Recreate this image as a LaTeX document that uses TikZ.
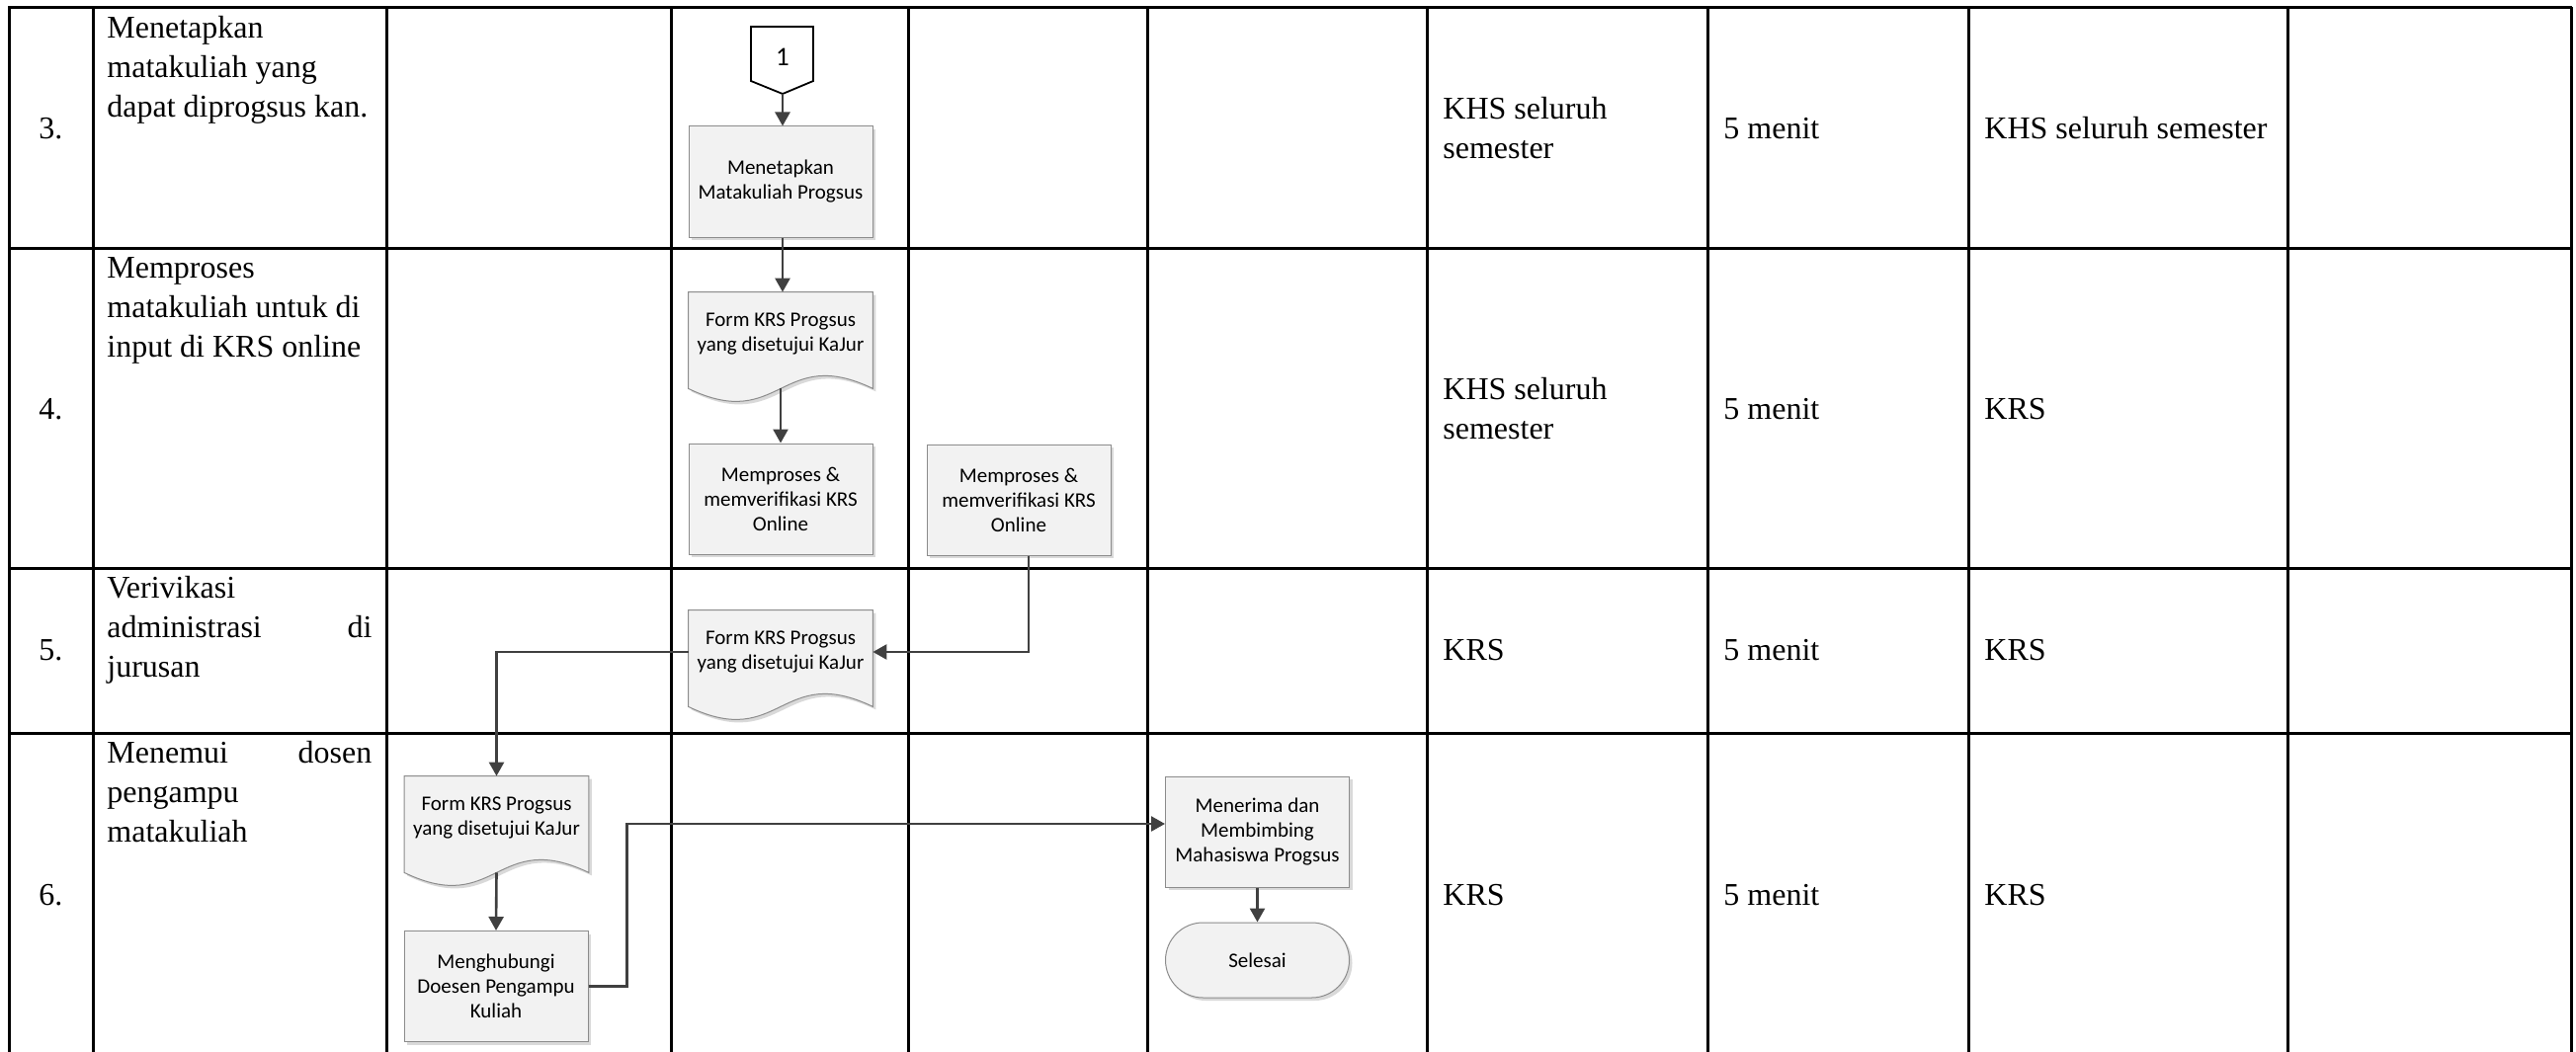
\documentclass[tikz,border=0pt]{standalone}
\usepackage{fontspec}
\setmainfont{Liberation Serif}
\newfontfamily\calibrifont{Carlito}
\usetikzlibrary{arrows.meta,calc}
\pgfdeclarelayer{background}
\pgfsetlayers{background,main}
\definecolor{linegray}{HTML}{404040}
\definecolor{boxfill}{HTML}{F2F2F2}
\definecolor{boxedge}{HTML}{8C8C8C}
\definecolor{shadowgray}{HTML}{D9D9D9}
\newcommand{\flowfont}{\calibrifont\fontsize{10.5}{12.5}\selectfont}
\newcommand{\tabfont}{\fontsize{16}{20}\selectfont}
\newcommand{\fullline}[1]{\hbox to 134pt{#1}}
\begin{document}
\begin{tikzpicture}[x=0.5pt,y=-0.5pt,
  gridline/.style={line width=1.5pt,black},
  procbox/.style={draw=boxedge,line width=0.5pt,fill=boxfill,minimum width=93pt,minimum height=56pt,inner sep=2pt,align=center,font=\flowfont,
    preaction={fill=shadowgray,transform canvas={xshift=1.5pt,yshift=-1.5pt}}},
  doctext/.style={minimum width=93pt,minimum height=42pt,inner sep=0pt,align=center,font=\flowfont},
  docshape/.style={draw=boxedge,line width=0.5pt,fill=boxfill},
  docshadow/.style={fill=shadowgray,transform canvas={xshift=1.5pt,yshift=-1.5pt}},
  arr/.style={draw=linegray,line width=1.3pt,-{Triangle[length=7pt,width=7.5pt]}},
  coltext/.style={anchor=north west,inner sep=0pt,align=left,font=\tabfont},
  celltext/.style={anchor=west,inner sep=0pt,align=left,font=\tabfont},
  numtext/.style={inner sep=0pt,font=\tabfont}
]
\useasboundingbox (0,0) rectangle (2607,1065);
% table grid
\foreach \gx in {9,94,391,679.5,919.5,1161,1444,1728,1992,2315,2602}
  \draw[gridline] (\gx,7.5) -- (\gx,1075);
\foreach \gy in {7.5,251.5,575,742}
  \draw[gridline] (8.25,\gy) -- (2602.75,\gy);

% row numbers
\node[numtext] (n3) at (51.5,130) {3.};
\node[numtext] (n4) at (51.5,414) {4.};
\node[numtext] (n5) at (51.5,658) {5.};
\node[numtext] (n6) at (51.5,906) {6.};

% activity descriptions
\node[coltext] (t3) at (108,16) {Menetapkan\\ matakuliah yang\\ dapat diprogsus kan.};
\node[coltext] (t4) at (108,260) {Memproses\\ matakuliah untuk di\\ input di KRS online};
\node[coltext] (t5) at (108,583) {Verivikasi\\ \fullline{administrasi\hfill di}\\ jurusan};
\node[coltext] (t6) at (108,750) {\fullline{Menemui\hfill dosen}\\ pengampu\\ matakuliah};

% right-hand columns
\node[celltext] (k3) at (1460,130) {KHS seluruh\\ semester};
\node[celltext] (w3) at (1744,130) {5 menit};
\node[celltext] (o3) at (2008,130) {KHS seluruh semester};
\node[celltext] (k4) at (1460,414) {KHS seluruh\\ semester};
\node[celltext] (w4) at (1744,414) {5 menit};
\node[celltext] (o4) at (2008,414) {KRS};
\node[celltext] (k5) at (1460,658) {KRS};
\node[celltext] (w5) at (1744,658) {5 menit};
\node[celltext] (o5) at (2008,658) {KRS};
\node[celltext] (k6) at (1460,906) {KRS};
\node[celltext] (w6) at (1744,906) {5 menit};
\node[celltext] (o6) at (2008,906) {KRS};

% off-page connector
\draw[line width=0.9pt,black,fill=white] (760,27) -- (823,27) -- (823,82) -- (792,95) -- (760,82) -- cycle;
\coordinate (c1tip) at (792,95);
\node[inner sep=0pt,font=\calibrifont\fontsize{13.5}{15}\selectfont] (c1) at (792,58) {1};

% process boxes
\node[procbox] (M1) at (790,184) {Menetapkan\\ Matakuliah Progsus};
\node[procbox] (P1) at (790,505) {Memproses \&\\ memverifikasi KRS\\ Online};
\node[procbox] (P2) at (1031,506) {Memproses \&\\ memverifikasi KRS\\ Online};
\node[procbox] (H) at (502,998.5) {Menghubungi\\ Doesen Pengampu\\ Kuliah};
\node[procbox] (R) at (1272.5,842) {Menerima dan\\ Membimbing\\ Mahasiswa Progsus};
\node[procbox,minimum height=38pt,rounded corners=19pt] (S) at (1272.5,972) {Selesai};

% documents
\node[doctext] (DA) at (790,338) {Form KRS Progsus\\ yang disetujui KaJur};
\node[doctext] (DB) at (790,660) {Form KRS Progsus\\ yang disetujui KaJur};
\node[doctext] (DC) at (502.5,828) {Form KRS Progsus\\ yang disetujui KaJur};
\begin{pgfonlayer}{background}
\foreach \d in {DA,DB,DC}{
  \fill[docshadow] (\d.north west) -- (\d.north east) -- ($(\d.south east)+(0,13)$)
    .. controls ($(\d.south)+(0,-32)$) and ($(\d.south)+(0,58)$) .. ($(\d.south west)+(0,13)$) -- cycle;
  \path[docshape] (\d.north west) -- (\d.north east) -- ($(\d.south east)+(0,13)$)
    .. controls ($(\d.south)+(0,-32)$) and ($(\d.south)+(0,58)$) .. ($(\d.south west)+(0,13)$) -- cycle;
}
\end{pgfonlayer}

% connectors
\draw[arr] (c1tip) -- (c1tip |- M1.north);
\draw[arr] (M1.south -| c1tip) -- (c1tip |- DA.north);
\draw[arr] ([yshift=-6.5pt]DA.south) -- (P1.north);
\draw[arr] ([xshift=5pt]P2.south) |- (DB.east);
\draw[arr] (DB.west) -| (DC.north);
\draw[arr] ([yshift=-6.5pt]DC.south) -- (H.north);
\draw[arr] (H.east) -- ++(39,0) |- ([yshift=4pt]R.west);
\draw[arr] (R.south) -- (S.north);
\end{tikzpicture}
\end{document}
